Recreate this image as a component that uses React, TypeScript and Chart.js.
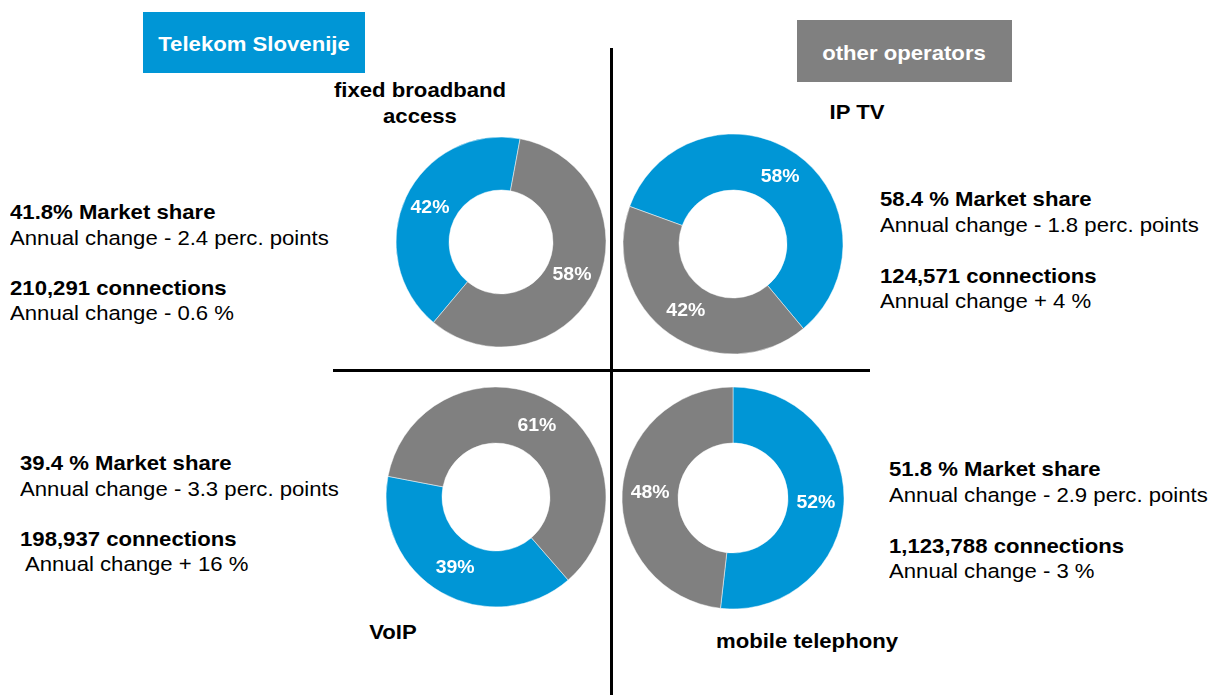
import React, { useEffect, useRef } from "react";
import { Chart, registerables } from "chart.js";

Chart.register(...registerables);

// ---- data ----
const operators = ["Telekom Slovenije", "other operators"];
const services = ["fixed broadband access", "IP TV", "VoIP", "mobile telephony"];
const telekomShare = [41.8, 58.4, 39.4, 51.8];
const otherShare = [58.2, 41.6, 60.6, 48.2];
const marketShareText = ["41.8% Market share", "58.4 % Market share", "39.4 % Market share", "51.8 % Market share"];
const shareChangeText = [
  "Annual change - 2.4 perc. points",
  "Annual change - 1.8 perc. points",
  "Annual change - 3.3 perc. points",
  "Annual change - 2.9 perc. points",
];
const connectionsText = ["210,291 connections", "124,571 connections", "198,937 connections", "1,123,788 connections"];
const connChangeText = ["Annual change - 0.6 %", "Annual change + 4 %", " Annual change + 16 %", "Annual change - 3 %"];

const BLUE = "rgb(0,150,214)";
const GRAY = "rgb(128,128,128)";
const FONT = "'Liberation Sans', Arial, Helvetica, sans-serif";
const SX = 1.08;

// layout (positions only)
const charts = [
  { cx: 500.5, cy: 242, r: 105, cut: 52, rot: 220 },
  { cx: 732.5, cy: 244, r: 110, cut: 54, rot: -70 },
  { cx: 496, cy: 497, r: 110, cut: 54, rot: 139 },
  { cx: 733, cy: 497.5, r: 111, cut: 55, rot: 0 },
];
const textBlocks = [
  { x: 10, ys: [212, 238, 288, 313] },
  { x: 880, ys: [199, 225, 276, 301] },
  { x: 20, ys: [463, 489, 539, 564] },
  { x: 889, ys: [469, 495, 546, 571] },
];

const labelPlugin = {
  id: "pctLabels",
  afterDatasetsDraw(chart: any) {
    const ctx = chart.ctx;
    const meta = chart.getDatasetMeta(0);
    const data = chart.data.datasets[0].data;
    meta.data.forEach((arc: any, i: number) => {
      const p = arc.tooltipPosition();
      ctx.save();
      ctx.translate(p.x, p.y);
      ctx.scale(SX, 1);
      ctx.fillStyle = "#fff";
      ctx.font = `bold 18px ${FONT}`;
      ctx.textAlign = "center";
      ctx.textBaseline = "middle";
      ctx.fillText(Math.round(data[i]) + "%", 0, 0);
      ctx.restore();
    });
  },
};

function Donut({ idx }: { idx: number }) {
  const ref = useRef<HTMLCanvasElement>(null);
  const c = charts[idx];
  const size = 240;
  useEffect(() => {
    if (!ref.current) return;
    const chart = new Chart(ref.current, {
      type: "doughnut",
      data: {
        labels: operators,
        datasets: [
          {
            data: [telekomShare[idx], otherShare[idx]],
            backgroundColor: [BLUE, GRAY],
            borderColor: "rgba(255,255,255,0.6)",
            borderWidth: 0.8,
          },
        ],
      },
      options: {
        responsive: false,
        animation: false,
        radius: c.r,
        cutout: ((c.cut / c.r) * 100).toFixed(2) + "%",
        rotation: c.rot,
        layout: { padding: 0 },
        plugins: { legend: { display: false }, tooltip: { enabled: false }, title: { display: false } },
      } as any,
      plugins: [labelPlugin],
    });
    return () => chart.destroy();
  }, [idx]);
  return (
    <div style={{ position: "absolute", left: c.cx - size / 2, top: c.cy - size / 2, width: size, height: size }}>
      <canvas ref={ref} width={size} height={size} style={{ width: size, height: size, display: "block" }} />
    </div>
  );
}

function TextLine({ x, y, text, bold, center, color }: any) {
  return (
    <div
      style={{
        position: "absolute",
        left: x,
        top: y - 12,
        height: 24,
        lineHeight: "24px",
        fontSize: 20.5,
        fontWeight: bold ? 700 : 400,
        fontFamily: FONT,
        whiteSpace: "pre",
        color: color || "#000",
        transform: center ? `translateX(-50%) scaleX(${SX})` : `scaleX(${SX})`,
        transformOrigin: center ? "center center" : "left center",
      }}
    >
      {text}
    </div>
  );
}

export default function App() {
  return (
    <div style={{ position: "absolute", left: 0, top: 0, width: 1210, height: 695, background: "#fff", overflow: "hidden" }}>
      {/* header boxes */}
      <div style={{ position: "absolute", left: 143, top: 12, width: 222, height: 61, background: BLUE }} />
      <TextLine x={254} y={44} text={operators[0]} bold center color="#fff" />
      <div style={{ position: "absolute", left: 797, top: 20, width: 215, height: 62, background: GRAY }} />
      <TextLine x={904} y={53} text={operators[1]} bold center color="#fff" />

      {/* dividers */}
      <div style={{ position: "absolute", left: 609.5, top: 48, width: 3, height: 647, background: "#000" }} />
      <div style={{ position: "absolute", left: 333, top: 368.5, width: 537, height: 3, background: "#000" }} />

      {/* titles */}
      <TextLine x={420} y={90} text="fixed broadband" bold center />
      <TextLine x={420} y={116} text="access" bold center />
      <TextLine x={857} y={112} text={services[1]} bold center />
      <TextLine x={393} y={632} text={services[2]} bold center />
      <TextLine x={807} y={641} text={services[3]} bold center />

      {charts.map((_, i) => (
        <Donut key={i} idx={i} />
      ))}

      {textBlocks.map((b, i) => (
        <React.Fragment key={i}>
          <TextLine x={b.x} y={b.ys[0]} text={marketShareText[i]} bold />
          <TextLine x={b.x} y={b.ys[1]} text={shareChangeText[i]} />
          <TextLine x={b.x} y={b.ys[2]} text={connectionsText[i]} bold />
          <TextLine x={b.x} y={b.ys[3]} text={connChangeText[i]} />
        </React.Fragment>
      ))}
    </div>
  );
}
